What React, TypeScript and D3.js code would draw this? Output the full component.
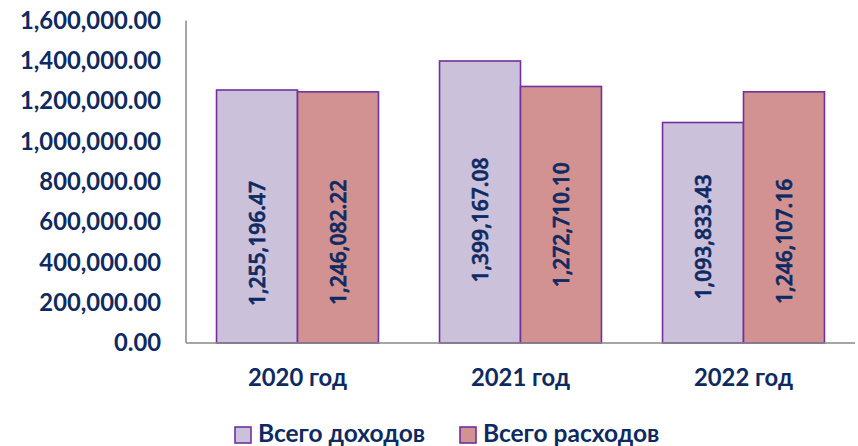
import React from 'react';
import * as d3 from 'd3';

const years = ['2020 год', '2021 год', '2022 год'];
const seriesNames = ['Всего доходов', 'Всего расходов'];
const incomeValues = [1255196.47, 1399167.08, 1093833.43];
const expenseValues = [1246082.22, 1272710.1, 1246107.16];
const yTicks = [0, 200000, 400000, 600000, 800000, 1000000, 1200000, 1400000, 1600000];

const W = 858;
const H = 446;
const TEXT = '#0E2A62';
const FONT = 'Lato, "Open Sans", sans-serif';
const LABEL_FONT = '"Open Sans", Lato, sans-serif';
const fills = ['#CCC1DA', '#D39292'];
// vertical nudge (px) of each rotated value label from its bar's middle
const labelShift = [[27, 25], [18, 10], [4, 24]];

const fmt = d3.format(',.2f');

const App = () => {
  const x = d3.scaleBand().domain(years).range([186, 855]).paddingInner(0).paddingOuter(0);
  const xs = d3.scaleBand().domain(seriesNames).range([0, x.bandwidth()]).paddingInner(0).paddingOuter(0.377);
  const y = d3.scaleLinear().domain([0, 1600000]).range([343, 20.5]);

  const rows = years.map((yr, i) => ({ yr, vals: [incomeValues[i], expenseValues[i]] }));

  return (
    <div style={{ position: 'absolute', left: 0, top: 0 }}>
      <svg width={W} height={H} style={{ display: 'block', background: '#fff' }}>
        {/* y tick labels */}
        {yTicks.map(t => (
          <text key={t} x={161} y={y(t)} dy="0.35em" textAnchor="end"
            fontFamily={FONT} fontWeight="bold" fontSize={23.8} fill={TEXT}>
            {fmt(t)}
          </text>
        ))}

        {/* bars */}
        {rows.map((r, i) => (
          <g key={r.yr} transform={`translate(${x(r.yr)},0)`}>
            {r.vals.map((v, j) => {
              const bx = xs(seriesNames[j]);
              const bw = xs.bandwidth();
              const top = y(v);
              const cy = (top + y(0)) / 2 + labelShift[i][j];
              const cx = bx + bw / 2;
              return (
                <g key={j}>
                  <rect x={bx} y={top} width={bw} height={y(0) - top}
                    fill={fills[j]} stroke="#7030A0" strokeWidth={1.6} />
                  <text transform={`translate(${cx},${cy}) rotate(-90)`} textAnchor="middle" dy="0.36em"
                    fontFamily={LABEL_FONT} fontWeight={600} fontSize={21} fill={TEXT}
                    stroke={TEXT} strokeWidth={0.6}>
                    {fmt(v)}
                  </text>
                </g>
              );
            })}
          </g>
        ))}

        {/* axes */}
        <line x1={186} x2={186} y1={20.5} y2={343} stroke="#888" strokeWidth={1.5} />
        <line x1={186} x2={855} y1={343} y2={343} stroke="#888" strokeWidth={1.5} />

        {/* category labels */}
        {years.map(yr => (
          <text key={yr} x={x(yr) + x.bandwidth() / 2} y={386} textAnchor="middle"
            fontFamily={FONT} fontWeight="bold" fontSize={23.8} fill={TEXT}>
            {yr}
          </text>
        ))}

        {/* legend */}
        {seriesNames.map((s, j) => {
          const lx = [235, 460][j];
          return (
            <g key={s}>
              <rect x={lx} y={427} width={16} height={16} fill={fills[j]} stroke="#7030A0" strokeWidth={1.6} />
              <text x={lx + 23} y={442} fontFamily={FONT} fontWeight="bold" fontSize={24.5} fill={TEXT}>{s}</text>
            </g>
          );
        })}
      </svg>
    </div>
  );
};

export default App;
